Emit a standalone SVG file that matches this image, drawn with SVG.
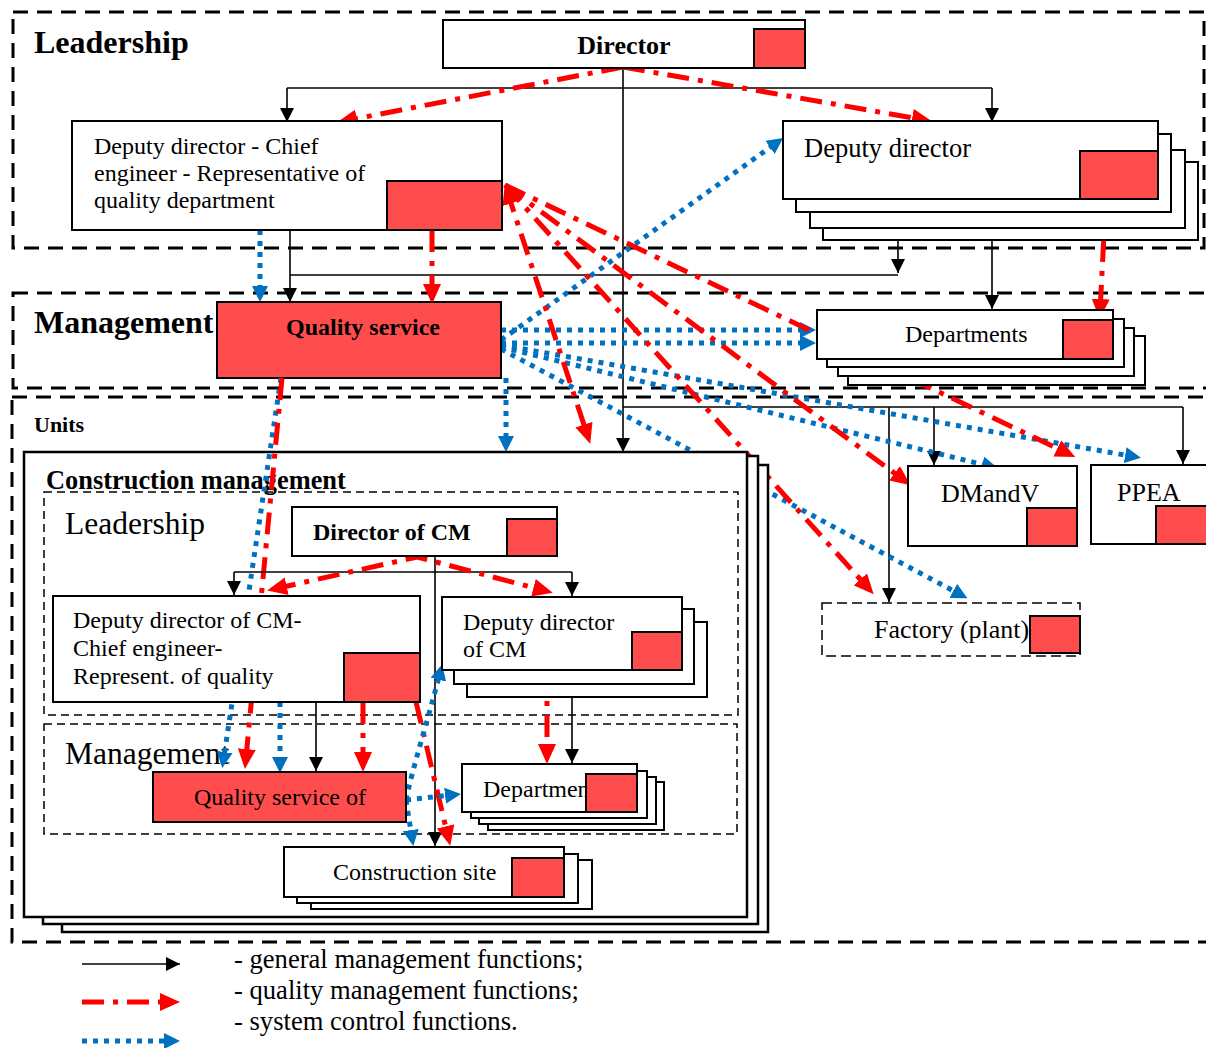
<svg xmlns="http://www.w3.org/2000/svg" width="1206" height="1048" viewBox="0 0 1206 1048">
<style>
text{font-family:"Liberation Serif","Times New Roman",serif;fill:#000}
.bd{font-weight:bold}
.rg{fill:none;stroke:#000;stroke-width:3;stroke-dasharray:15 9}
.in{fill:none;stroke:#000;stroke-width:1.5;stroke-dasharray:8 5}
.box{fill:#fff;stroke:#000;stroke-width:2}
.cm{fill:#fff;stroke:#000;stroke-width:2.5}
.sq{fill:#ff4d4d;stroke:#000;stroke-width:2}
.k{fill:none;stroke:#000;stroke-width:1.6}
.r{fill:none;stroke:#f00;stroke-width:5;stroke-dasharray:22 9 5 9}
.b{fill:none;stroke:#0070c0;stroke-width:5;stroke-dasharray:5 6}
.ka{marker-end:url(#mk)}
.ra{marker-end:url(#mr)}
.ba{marker-end:url(#mb)}
</style>
<defs>
<marker id="mk" markerUnits="userSpaceOnUse" markerWidth="14" markerHeight="14" viewBox="0 0 14 14" refX="14" refY="7" orient="auto"><path d="M0,0L14,7L0,14z" fill="#000"/></marker>
<marker id="mr" markerUnits="userSpaceOnUse" markerWidth="20" markerHeight="18" viewBox="0 0 20 18" refX="13" refY="9" orient="auto-start-reverse"><path d="M0,0L20,9L0,18z" fill="#f00"/></marker>
<marker id="mb" markerUnits="userSpaceOnUse" markerWidth="16" markerHeight="16" viewBox="0 0 16 16" refX="11" refY="8" orient="auto"><path d="M0,0L16,8L0,16z" fill="#0070c0"/></marker>
</defs>
<rect width="1206" height="1048" fill="#fff"/>

<g id="regions">
<rect class="rg" x="13" y="12" width="1191" height="236"/>
<rect class="rg" x="13" y="293" width="1203" height="95"/>
<rect class="rg" x="12" y="397" width="1204" height="545"/>
<text class="bd" x="34" y="53" font-size="32">Leadership</text>
<text class="bd" x="34" y="333" font-size="32">Management</text>
<text class="bd" x="34" y="432" font-size="22">Units</text>
</g>

<g id="connectors">
<path class="k" d="M287,88 H992"/>
<path class="k ka" d="M287,88 V122"/>
<path class="k ka" d="M992,88 V122"/>
<path class="k ka" d="M623,68 V452"/>
<path class="k ka" d="M290,230 V302"/>
<path class="k" d="M290,275 H898"/>
<path class="k ka" d="M898,240 V273"/>
<path class="k ka" d="M992,240 V309"/>
<path class="k" d="M623,407 H1183"/>
<path class="k ka" d="M934,407 V465"/>
<path class="k ka" d="M1183,407 V464"/>
<path class="k ka" d="M889,407 V602"/>

<path class="b ba" d="M501,349 L963,596"/>
<path class="b ba" d="M501,345 L1136,457"/>
<path class="b ba" d="M501,347 L993,467"/>
<path class="b ba" d="M501,340 L779,141"/>
<path class="b ba" d="M501,330 H811"/>
<path class="b ba" d="M501,343 H811"/>
<path class="b ba" d="M506,378 V447"/>
<path class="b ba" d="M260,230 V297"/>

<path class="r ra" d="M623,67 L344,121"/>
<path class="r ra" d="M623,67 L925,120"/>
<path class="r ra" d="M432,230 V297"/>
<path class="r ra" d="M1106,195 L1100,312"/>
<path class="r ra" d="M507,191 L588,437" marker-start="url(#mr)"/>
<path class="r ra" d="M505,185 L869,589"/>
<path class="r ra" d="M505,185 L1069,454"/>
<path class="r ra" d="M505,185 L905,481"/>
</g>

<g id="director">
<rect class="box" x="443" y="20" width="362" height="48"/>
<rect class="sq" x="754" y="29" width="51" height="39"/>
<text class="bd" x="624" y="54" font-size="26" text-anchor="middle">Director</text>
</g>

<g id="deputy-chief">
<rect class="box" x="72" y="121" width="430" height="109"/>
<rect class="sq" x="387" y="181" width="115" height="49"/>
<text x="94" y="154" font-size="24">Deputy director - Chief</text>
<text x="94" y="181" font-size="24">engineer - Representative of</text>
<text x="94" y="208" font-size="24">quality department</text>
</g>

<g id="deputy-director">
<rect class="box" x="823" y="162" width="375" height="78"/>
<rect class="box" x="810" y="150" width="375" height="78"/>
<rect class="box" x="796" y="134" width="375" height="78"/>
<rect class="box" x="783" y="121" width="375" height="78"/>
<rect class="sq" x="1080" y="151" width="78" height="48"/>
<text x="804" y="157" font-size="26.5">Deputy director</text>
</g>

<g id="quality-service">
<rect class="sq" x="217" y="302" width="284" height="76"/>
<text class="bd" x="363" y="335" font-size="24" text-anchor="middle">Quality service</text>
</g>

<g id="departments">
<rect class="box" x="848" y="336" width="297" height="49"/>
<rect class="box" x="838" y="328" width="296" height="48"/>
<rect class="box" x="827" y="319" width="297" height="48"/>
<rect class="box" x="817" y="310" width="296" height="49"/>
<rect class="sq" x="1063" y="320" width="50" height="39"/>
<text x="905" y="342" font-size="24">Departments</text>
</g>

<g id="dmandv">
<rect class="box" x="908" y="466" width="169" height="80"/>
<rect class="sq" x="1027" y="508" width="50" height="38"/>
<text x="941" y="502" font-size="26">DMandV</text>
</g>

<g id="ppea">
<rect class="box" x="1091" y="465" width="125" height="79"/>
<rect class="sq" x="1156" y="506" width="55" height="38"/>
<text x="1117" y="501" font-size="26">PPEA</text>
</g>

<g id="factory">
<rect x="822" y="603" width="258" height="53" fill="#fff" stroke="#000" stroke-width="1.5" stroke-dasharray="10 5"/>
<text x="874" y="638" font-size="26">Factory (plant)</text>
<rect class="sq" x="1030" y="616" width="50" height="37"/>
</g>

<g id="construction-management">
<rect class="cm" x="62" y="465" width="706" height="467"/>
<rect class="cm" x="43" y="456" width="715" height="468"/>
<rect class="cm" x="24" y="452" width="723" height="465"/>
<text class="bd" x="46" y="489" font-size="26.4">Construction management</text>
<rect class="in" x="44" y="492" width="694" height="223"/>
<text x="65" y="534" font-size="31.5">Leadership</text>
<rect class="in" x="44" y="724" width="693" height="110"/>
<text x="65" y="764" font-size="31.5">Management</text>
</g>

<g id="connectors-cm">
<path class="b ba" d="M281,378 L223,763"/>
<path class="r ra" d="M282,378 L245.6,762"/>
<path class="k" d="M234,572 H572"/>
<path class="k ka" d="M234,572 V595"/>
<path class="k ka" d="M572,572 V596"/>
<path class="k ka" d="M435,556 V846"/>
<path class="k ka" d="M316,702 V771"/>
<path class="k ka" d="M572,670 V763"/>
<path class="r ra" d="M274,589 L417,557 L546,591" marker-start="url(#mr)"/>
<path class="r ra" d="M363,702 V765"/>
<path class="r ra" d="M547,670 V757"/>
<path class="r ra" d="M416,702 L448.6,839"/>
<path class="b ba" d="M280,702 V768"/>
<path class="b ba" d="M406,800 C412,770 428,720 441,669"/>
<path class="b ba" d="M406,800 L456,794.5"/>
<path class="b ba" d="M406,800 L412.5,841"/>
</g>

<g id="director-cm">
<rect class="box" x="292" y="507" width="265" height="49"/>
<rect class="sq" x="507" y="519" width="50" height="37"/>
<text class="bd" x="313" y="540" font-size="24">Director of CM</text>
</g>

<g id="deputy-chief-cm">
<rect class="box" x="53" y="596" width="367" height="106"/>
<rect class="sq" x="344" y="653" width="76" height="49"/>
<text x="73" y="628" font-size="24">Deputy director of CM-</text>
<text x="73" y="656" font-size="24">Chief engineer-</text>
<text x="73" y="684" font-size="24">Represent. of quality</text>
</g>

<g id="deputy-director-cm">
<rect class="box" x="467" y="622" width="240" height="75"/>
<rect class="box" x="454" y="609" width="240" height="75"/>
<rect class="box" x="442" y="597" width="240" height="73"/>
<rect class="sq" x="632" y="632" width="50" height="38"/>
<text x="463" y="630" font-size="24">Deputy director</text>
<text x="463" y="657" font-size="24">of CM</text>
</g>

<g id="quality-service-cm">
<rect class="sq" x="153" y="772" width="253" height="50"/>
<text x="280" y="805" font-size="24" text-anchor="middle">Quality service of</text>
</g>

<g id="departments-cm">
<rect class="box" x="488" y="782" width="176" height="48"/>
<rect class="box" x="479" y="777" width="177" height="47"/>
<rect class="box" x="471" y="771" width="176" height="47"/>
<rect class="box" x="462" y="764" width="175" height="48"/>
<text x="483" y="797" font-size="24">Departmen</text>
<rect class="sq" x="586" y="774" width="51" height="38"/>
</g>

<g id="construction-site">
<rect class="box" x="311" y="860" width="281" height="49"/>
<rect class="box" x="297" y="854" width="281" height="49"/>
<rect class="box" x="284" y="847" width="280" height="50"/>
<rect class="sq" x="512" y="858" width="52" height="39"/>
<text x="333" y="880" font-size="24">Construction site</text>
</g>

<g id="legend">
<path class="k ka" d="M82,964 H180"/>
<path class="r ra" d="M82,1002 H173"/>
<path class="b ba" d="M82,1041 H175"/>
<text x="234" y="968" font-size="26.6">- general management functions;</text>
<text x="234" y="999" font-size="26.6">- quality management functions;</text>
<text x="234" y="1030" font-size="26.6">- system control functions.</text>
</g>
</svg>
